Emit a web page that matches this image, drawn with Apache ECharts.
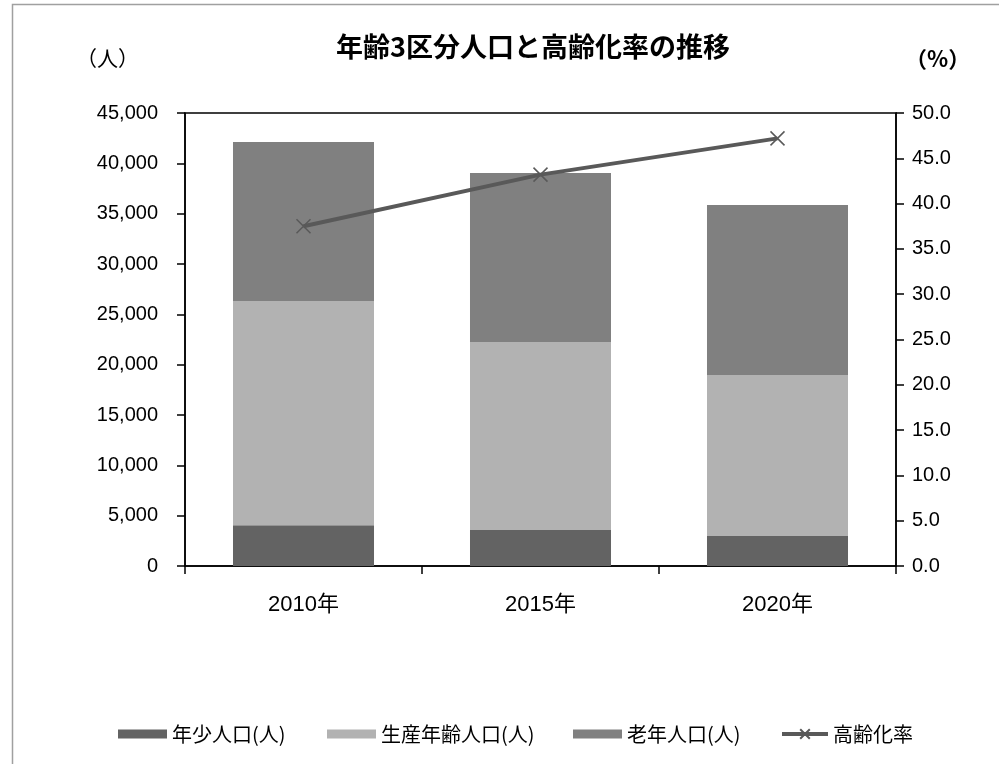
<!DOCTYPE html>
<html><head><meta charset="utf-8">
<script src="https://cdn.jsdelivr.net/npm/echarts@6/dist/echarts.min.js"></script>
<style>html,body{margin:0;padding:0;background:#fff}#c{width:999px;height:764px}</style>
</head><body><div id="c"></div>
<script>
const categories = ['2010年', '2015年', '2020年'];
const youngPop = [4050, 3580, 2980];
const workingPop = [22280, 18680, 15990];
const oldPop = [15790, 16780, 16890];
const agingRate = [37.5, 43.2, 47.2];
const seriesNames = ['年少人口(人)', '生産年齢人口(人)', '老年人口(人)', '高齢化率'];

const FONT = '"Liberation Sans","Noto Sans CJK JP",sans-serif';
const JP = '"Noto Sans CJK JP",sans-serif';
const chart = echarts.init(document.getElementById('c'));
const xSym = 'path://M0,0L10,10M10,0L0,10';
const legendLefts = [113, 322, 568, 775];
const legends = seriesNames.map((n, i) => ({
  top: 719, left: legendLefts[i], itemWidth: i === 3 ? 46 : 49, itemHeight: i === 3 ? 12 : 9, itemGap: 0,
  textStyle: {fontFamily: JP, fontSize: 20, color: '#000'},
  data: [i === 3 ? {name: n, lineStyle: {width: 4, color: '#595959'}} : {name: n, icon: 'rect'}]
}));
chart.setOption({
  animation: false,
  backgroundColor: '#fff',
  title: {
    text: '年齢3区分人口と高齢化率の推移', left: 528, textAlign: 'center', top: 28,
    textStyle: {fontFamily: JP, fontSize: 27, fontWeight: 'bold', color: '#000'}
  },
  graphic: [
    {type: 'rect', shape: {x: 12.5, y: 4.5, width: 1100, height: 1000}, style: {fill: 'none', stroke: '#a0a0a0', lineWidth: 1.5}},
    {type: 'text', left: 76, top: 48, style: {text: '（人）', font: '21px "Noto Sans CJK JP"', fill: '#000'}},
    {type: 'text', left: 905, top: 48, style: {text: '（%）', font: 'bold 22px "Noto Sans CJK JP"', fill: '#000'}}
  ],
  grid: {left: 185, right: 103, top: 113, bottom: 198, show: true, borderColor: '#000', borderWidth: 1.5, backgroundColor: 'transparent'},
  legend: legends,
  xAxis: {
    type: 'category', data: categories,
    axisLine: {lineStyle: {color: '#000', width: 1.5}},
    axisTick: {show: true, inside: false, length: 8, alignWithLabel: false, lineStyle: {color: '#000', width: 1.5}},
    axisLabel: {fontFamily: FONT, fontSize: 22, color: '#000', margin: 28}
  },
  yAxis: [
    {type: 'value', min: 0, max: 45000, interval: 5000, position: 'left',
      axisLine: {show: true, lineStyle: {color: '#000', width: 1.5}},
      axisTick: {show: true, length: 8, lineStyle: {color: '#000', width: 1.5}},
      splitLine: {show: false},
      axisLabel: {fontFamily: FONT, fontSize: 20, color: '#000', margin: 27,
        formatter: v => v.toLocaleString('en-US')}},
    {type: 'value', min: 0, max: 50, interval: 5, position: 'right',
      axisLine: {show: true, lineStyle: {color: '#000', width: 1.5}},
      axisTick: {show: true, length: 8, lineStyle: {color: '#000', width: 1.5}},
      splitLine: {show: false},
      axisLabel: {fontFamily: FONT, fontSize: 20, color: '#000', margin: 16,
        formatter: v => v.toFixed(1)}}
  ],
  series: [
    {name: seriesNames[0], type: 'bar', stack: 'p', data: youngPop, barWidth: '59.5%', itemStyle: {color: '#636363'}},
    {name: seriesNames[1], type: 'bar', stack: 'p', data: workingPop, itemStyle: {color: '#b2b2b2'}},
    {name: seriesNames[2], type: 'bar', stack: 'p', data: oldPop, itemStyle: {color: '#808080'}},
    {name: seriesNames[3], type: 'line', yAxisIndex: 1, data: agingRate, symbol: xSym, symbolSize: 14,
      lineStyle: {color: '#595959', width: 4},
      itemStyle: {color: 'none', borderColor: '#595959', borderWidth: 1.5}, z: 5}
  ]
});
</script></body></html>
